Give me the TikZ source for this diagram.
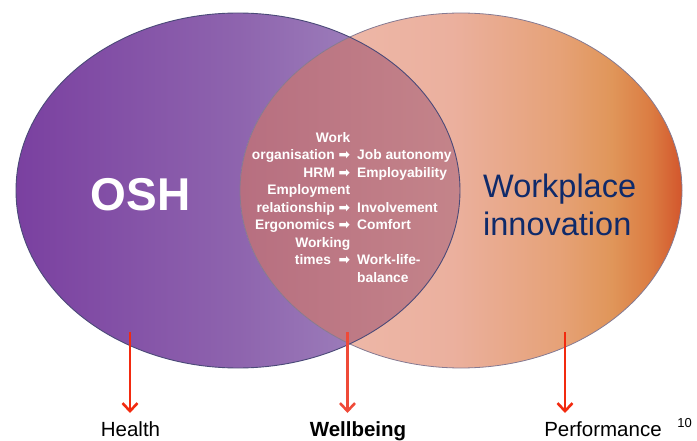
\documentclass[tikz,border=0pt]{standalone}
\usepackage{fontspec}
\usepackage{array}
\setmainfont{Liberation Sans}
\newfontfamily\symfont{DejaVu Sans}
\usetikzlibrary{arrows.meta}
\definecolor{oshA}{HTML}{7A40A0}
\definecolor{oshB}{HTML}{8E64AE}
\definecolor{oshC}{HTML}{A892C4}
\definecolor{wA}{HTML}{F0BEB0}
\definecolor{wB}{HTML}{EBB09E}
\definecolor{wC}{HTML}{E6A278}
\definecolor{wD}{HTML}{E0965A}
\definecolor{wE}{HTML}{DB7C42}
\definecolor{wF}{HTML}{D3562C}
\definecolor{ovA}{HTML}{B76F80}
\definecolor{ovB}{HTML}{C4848A}
\definecolor{navy}{HTML}{0F2A6A}
\definecolor{arrred}{HTML}{F22A0F}
\definecolor{arrred2}{HTML}{EF4A38}
\definecolor{edgeL}{HTML}{4B4A78}
\definecolor{edgeR}{HTML}{857A92}
\pgfdeclarehorizontalshading{oshshade}{100bp}{color(0bp)=(oshA); color(25bp)=(oshA); color(50bp)=(oshB); color(75bp)=(oshC); color(100bp)=(oshC)}
\pgfdeclarehorizontalshading{wpishade}{100bp}{color(0bp)=(wA); color(25bp)=(wA); color(49bp)=(wB); color(61bp)=(wC); color(67bp)=(wD); color(71.5bp)=(wE); color(75bp)=(wF); color(100bp)=(wF)}
\tikzset{
  labeltext/.style={inner sep=0pt, font=\fontsize{20.5}{24}\selectfont, text=black},
  redarrow/.style={line width=2.6pt, draw=arrred, -{Straight Barb[length=8pt,width=15pt]}},
}
\begin{document}
\begin{tikzpicture}[x=1pt,y=-1pt]
\useasboundingbox (0,0) rectangle (697,441);
% ellipses
\shade[shading=oshshade] (238,190.5) ellipse [x radius=222, y radius=177.5];
\shade[shading=wpishade] (461,190.5) ellipse [x radius=221, y radius=177.5];
\begin{scope}
  \clip (238,190.5) ellipse [x radius=222, y radius=177.5];
  \clip (461,190.5) ellipse [x radius=221, y radius=177.5];
  \shade[left color=ovA, right color=ovB] (240,10) rectangle (460,370);
\end{scope}
\draw[edgeR, line width=0.8pt] (461,190.5) ellipse [x radius=221, y radius=177.5];
\draw[edgeL, line width=0.9pt] (238,190.5) ellipse [x radius=222, y radius=177.5];
% texts
\node[inner sep=0pt, text=white, font=\bfseries\fontsize{46}{46}\selectfont] (osh) at (140.5,195) {OSH};
\node[inner sep=0pt, anchor=north west, align=left, text=navy, font=\fontsize{32.5}{38}\selectfont] (wpi) at (483,173.5) {Workplace\\innovation};
\node[inner sep=0pt, anchor=north west, text=white, font=\bfseries\fontsize{13.8}{17.5}\selectfont] (mid) at (240,129.75) {%
\begin{tabular}{@{}>{\raggedleft\arraybackslash}p{110pt}@{\hspace{7pt}}>{\raggedright\arraybackslash}p{100pt}@{}}
Work & \\
organisation {\symfont\bfseries ➡} & Job autonomy\\
HRM {\symfont\bfseries ➡} & Employability\\
Employment & \\
relationship {\symfont\bfseries ➡} & Involvement\\
Ergonomics {\symfont\bfseries ➡} & Comfort\\
Working & \\
times\ \ {\symfont\bfseries ➡} & Work-life-\\
 & balance\\
\end{tabular}};
% bottom labels
\node[labeltext, anchor=base] (health) at (130.5,436) {Health};
\node[labeltext, anchor=base, font=\bfseries\fontsize{20.5}{24}\selectfont] (well) at (358,436) {Wellbeing};
\node[labeltext, anchor=base] (perf) at (603,436) {Performance};
\node[inner sep=0pt, anchor=base, font=\fontsize{13}{15}\selectfont] (pnum) at (684.5,427) {10};
% arrows
\coordinate (hs) at (130,332);
\coordinate (he) at (130,413);
\coordinate (ws) at (347.5,332);
\coordinate (we) at (347.5,413);
\coordinate (ps) at (565,332);
\coordinate (pe) at (565,413);
\draw[redarrow] (hs) -- (he);
\draw[redarrow, draw=arrred2] (ws) -- (we);
\draw[redarrow] (ps) -- (pe);
\end{tikzpicture}
\end{document}
